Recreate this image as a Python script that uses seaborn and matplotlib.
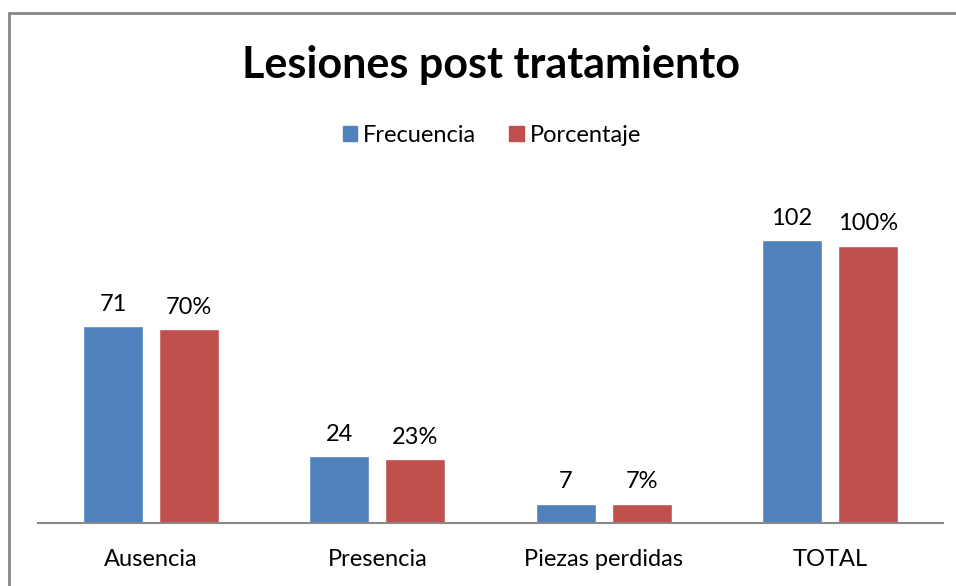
import pandas as pd
import seaborn as sns
import matplotlib.pyplot as plt
from matplotlib.patches import Patch
from matplotlib.lines import Line2D

categorias = ["Ausencia", "Presencia", "Piezas perdidas", "TOTAL"]
frecuencia = [71, 24, 7, 102]
porcentaje = [70, 23, 7, 100]
etiquetas_frec = ["71", "24", "7", "102"]
etiquetas_porc = ["70%", "23%", "7%", "100%"]

df = pd.DataFrame({
    "categoria": categorias * 2,
    "serie": ["Frecuencia"] * 4 + ["Porcentaje"] * 4,
    "valor": frecuencia + porcentaje,
})

sns.set_style("white")
plt.rcParams["font.family"] = ["Lato", "DejaVu Sans"]
plt.rcParams["text.color"] = "black"
plt.rcParams["xtick.color"] = "black"

fig = plt.figure(figsize=(9.56, 5.86), dpi=100)
ax = fig.add_axes([38 / 956, 1 - 523 / 586, 905 / 956, 333 / 586])

sns.barplot(data=df, x="categoria", y="valor", hue="serie",
            palette=["#4F81BD", "#C0504D"], width=0.672, gap=0.21,
            saturation=1, ax=ax, legend=False)

ax.set_xlim(-0.5, 3.5)
ax.set_ylim(0, 120)
ax.set_xlabel("")
ax.set_ylabel("")
ax.set_yticks([])
for s in ["top", "right", "left"]:
    ax.spines[s].set_visible(False)
ax.spines["bottom"].set_color("#888888")
ax.spines["bottom"].set_linewidth(1.5)
ax.tick_params(axis="x", length=0, labelsize=17, labelcolor="black", pad=19)

for cont, labs in zip(ax.containers, [etiquetas_frec, etiquetas_porc]):
    ax.bar_label(cont, labels=labs, padding=8, fontsize=17, color="black")

# leyenda
handles = [Patch(color="#4F81BD", label="Frecuencia"),
           Patch(color="#C0504D", label="Porcentaje")]
fig.legend(handles=handles, loc="center", bbox_to_anchor=(492 / 956, 1 - 135 / 586),
           ncol=2, frameon=False, fontsize=17, handlelength=0.6, handleheight=0.6,
           handletextpad=0.25, columnspacing=1.4, labelcolor="black")

fig.text(491 / 956, 1 - 65 / 586, "Lesiones post tratamiento", ha="center",
         va="center", fontsize=31, fontweight="bold", color="black")

# borde del grafico (solo arriba e izquierda visibles)
x0, y0 = 8.5 / 956, 1 - 12.5 / 586
fig.add_artist(Line2D([x0, 1.0], [y0, y0], transform=fig.transFigure,
                      color="#888888", linewidth=2))
fig.add_artist(Line2D([x0, x0], [0.0, y0], transform=fig.transFigure,
                      color="#888888", linewidth=2))

fig.savefig("out.png", dpi=100)
